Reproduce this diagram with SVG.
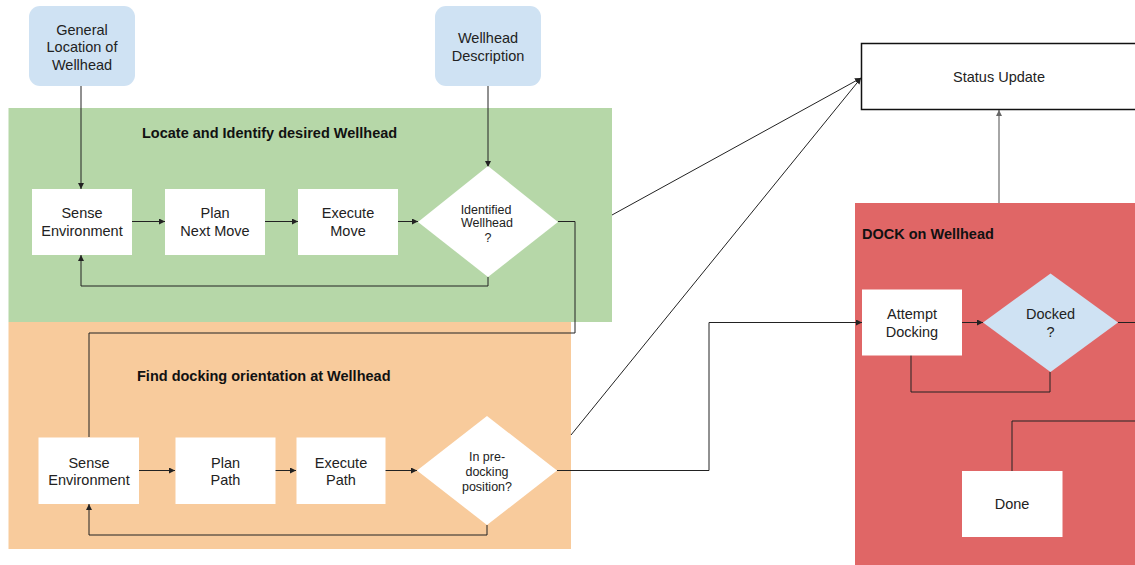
<svg xmlns="http://www.w3.org/2000/svg" width="1135" height="565" viewBox="0 0 1135 565">
<defs>
<marker id="ah" markerUnits="userSpaceOnUse" markerWidth="7" markerHeight="6" refX="6" refY="3" orient="auto"><path d="M0,0 L6,3 L0,6 z" fill="#222"/></marker>
<marker id="ahg" markerUnits="userSpaceOnUse" markerWidth="7" markerHeight="6" refX="6" refY="3" orient="auto"><path d="M0,0 L6,3 L0,6 z" fill="#666"/></marker>
<style>
.t{font-family:"Liberation Sans",Arial,sans-serif;font-size:14.5px;fill:#222;text-anchor:middle}
.s{font-family:"Liberation Sans",Arial,sans-serif;font-size:12.5px;fill:#222;text-anchor:middle}
.h{font-family:"Liberation Sans",Arial,sans-serif;font-size:14.5px;font-weight:bold;fill:#111}
.box{fill:#fff}
.in{fill:#cfe2f3}
.c{fill:none;stroke:#222;stroke-width:1}
</style>
</defs>
<rect width="1135" height="565" fill="#fff"/>
<g id="region-locate">
<rect x="8.5" y="108" width="603.5" height="214" fill="#b6d7a8"/>
<text class="h" x="142" y="137.5">Locate and Identify desired Wellhead</text>
</g>
<g id="region-find">
<rect x="8.5" y="322" width="562.5" height="227" fill="#f8cb9c"/>
<text class="h" x="137" y="381">Find docking orientation at Wellhead</text>
</g>
<g id="region-dock">
<rect x="855" y="203" width="285" height="365" fill="#e06666"/>
<text class="h" x="862" y="238.5">DOCK on Wellhead</text>
</g>
<g id="connectors">
<path class="c" d="M81,86 V189" marker-end="url(#ah)"/>
<path class="c" d="M488,86 V167" marker-end="url(#ah)"/>
<path class="c" d="M132,221.5 H165" marker-end="url(#ah)"/>
<path class="c" d="M265,221.5 H298" marker-end="url(#ah)"/>
<path class="c" d="M398,221.5 H418" marker-end="url(#ah)"/>
<path class="c" d="M488,277 V286 H81 V255" marker-end="url(#ah)"/>
<path class="c" d="M558,221.5 H575 V333 H89 V437"/>
<path class="c" d="M139,470.5 H175" marker-end="url(#ah)"/>
<path class="c" d="M275,470.5 H296" marker-end="url(#ah)"/>
<path class="c" d="M385,470.5 H417" marker-end="url(#ah)"/>
<path class="c" d="M487,525 V535 H89 V504" marker-end="url(#ah)"/>
<path class="c" d="M557,470.5 H709 V322.5 H862" marker-end="url(#ah)"/>
<path class="c" d="M612,215 L861,78" marker-end="url(#ah)"/>
<path class="c" d="M571,435 L861,78" marker-end="url(#ah)"/>
<path d="M999,203 V110" fill="none" stroke="#888" stroke-width="1.5" marker-end="url(#ahg)"/>
<path class="c" d="M962,322.5 H983" marker-end="url(#ah)"/>
<path class="c" d="M1050,372 V392 H911 V355"/>
<path class="c" d="M1118,322.5 H1140 V421 H1012 V471"/>
</g>
<g id="node-general-location">
<rect x="29" y="6" width="106" height="80" rx="11" class="in"/>
<text class="t" x="82" y="34.5">General</text>
<text class="t" x="82" y="52">Location of</text>
<text class="t" x="82" y="69.5">Wellhead</text>
</g>
<g id="node-wellhead-description">
<rect x="435" y="6" width="106" height="80" rx="11" class="in"/>
<text class="t" x="488" y="43">Wellhead</text>
<text class="t" x="488" y="60.5">Description</text>
</g>
<g id="node-sense1">
<rect x="32" y="189" width="100" height="66" class="box"/>
<text class="t" x="82" y="218">Sense</text>
<text class="t" x="82" y="235.5">Environment</text>
</g>
<g id="node-plan-next-move">
<rect x="165" y="189" width="100" height="66" class="box"/>
<text class="t" x="215" y="218">Plan</text>
<text class="t" x="215" y="235.5">Next Move</text>
</g>
<g id="node-execute-move">
<rect x="298" y="189" width="100" height="66" class="box"/>
<text class="t" x="348" y="218">Execute</text>
<text class="t" x="348" y="235.5">Move</text>
</g>
<g id="node-identified">
<polygon points="488,166 558,222 488,277 418,222" class="box"/>
<text class="s" x="486" y="213.5">Identified</text>
<text class="s" x="487" y="227">Wellhead</text>
<text class="s" x="488" y="241.5">?</text>
</g>
<g id="node-sense2">
<rect x="38.5" y="437.5" width="100.5" height="66.5" class="box"/>
<text class="t" x="89" y="467.5">Sense</text>
<text class="t" x="89" y="485">Environment</text>
</g>
<g id="node-plan-path">
<rect x="175.5" y="437.5" width="100" height="66.5" class="box"/>
<text class="t" x="225.5" y="467.5">Plan</text>
<text class="t" x="225.5" y="485">Path</text>
</g>
<g id="node-execute-path">
<rect x="296.5" y="437.5" width="89" height="66.5" class="box"/>
<text class="t" x="341" y="467.5">Execute</text>
<text class="t" x="341" y="485">Path</text>
</g>
<g id="node-predocking">
<polygon points="487,416 557,470.5 487,525 417,470.5" class="box"/>
<text class="s" x="487" y="461">In pre-</text>
<text class="s" x="487" y="476">docking</text>
<text class="s" x="487" y="490.5">position?</text>
</g>
<g id="node-status-update">
<rect x="861.5" y="43.5" width="280" height="66" fill="#fff" stroke="#111" stroke-width="1.5"/>
<text class="t" x="999" y="82">Status Update</text>
</g>
<g id="node-attempt-docking">
<rect x="862" y="289.5" width="100" height="66" class="box"/>
<text class="t" x="912" y="319">Attempt</text>
<text class="t" x="912" y="336.5">Docking</text>
</g>
<g id="node-docked">
<polygon points="1050.5,273.5 1118,322.5 1050.5,372 983,322.5" class="in"/>
<text class="t" x="1050.5" y="319">Docked</text>
<text class="t" x="1050.5" y="336.5">?</text>
</g>
<g id="node-done">
<rect x="962" y="471" width="100.5" height="66" class="box"/>
<text class="t" x="1012" y="509">Done</text>
</g>
</svg>
